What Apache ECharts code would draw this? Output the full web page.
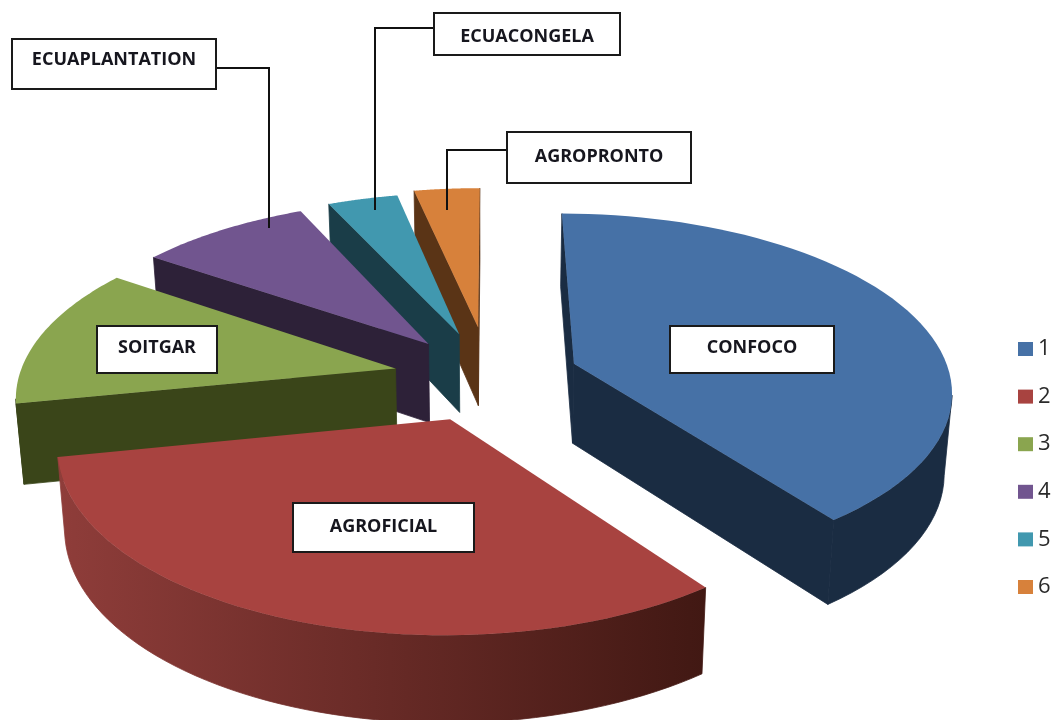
<!DOCTYPE html>
<html>
<head>
<meta charset="utf-8">
<style>
  html, body { margin: 0; padding: 0; background: #fff; }
  #chart { width: 1059px; height: 720px; }
</style>
<script src="https://cdn.jsdelivr.net/npm/echarts@6/dist/echarts.min.js"></script>
</head>
<body>
<div id="chart"></div>
<script>
// data
const legendNames = ['1', '2', '3', '4', '5', '6'];
const companies = ['CONFOCO', 'AGROFICIAL', 'SOITGAR', 'ECUAPLANTATION', 'ECUACONGELA', 'AGROPRONTO'];
const shares = [39.7, 32.2, 12.5, 8.6, 3.6, 3.4];

// slice look
const topColors = ['#4671a6', '#a84340', '#8aa54f', '#71558f', '#4198af', '#d7813b'];
const wallColors = ['#1a2c42', '#441a16', '#3a4519', '#2d2138', '#1a3d48', '#5a3416'];
// how far each slice is pulled out, in pie radii, on the pie plane
const explodeU = [0.228, -0.1, -0.25, -0.165, -0.082, -0.03];
const explodeV = [-0.102, 0.2, -0.076, -0.217, -0.275, -0.315];
const stacking = [5, 6, 4, 3, 2, 1];

// fake 3d projection of the pie plane
const cx = 489, cy = 382, radius = 378, tilt = 0.478, persp = 0.14, depth = 80;

function project(u, v, level) {
  const s = 1 + persp * v;
  return [
    cx + u * radius * s * (1 - level * 0.017),
    cy + v * tilt * radius * s + level * depth * (1 + 0.08 * v)
  ];
}

const total = shares.reduce((a, b) => a + b, 0);

function slicePoints(i) {
  const before = shares.slice(0, i).reduce((a, b) => a + b, 0);
  const a0 = before / total * Math.PI * 2;
  const a1 = (before + shares[i]) / total * Math.PI * 2;
  const ou = explodeU[i];
  const ov = explodeV[i];
  const arc = [];
  const steps = 60;
  for (let k = 0; k <= steps; k++) {
    const a = a0 + (a1 - a0) * k / steps;
    arc.push([ou + Math.sin(a), ov - Math.cos(a)]);
  }
  return { apex: [ou, ov], arc: arc };
}

function wall(uvList, fill) {
  const top = uvList.map(p => project(p[0], p[1], 0));
  const bottom = uvList.map(p => project(p[0], p[1], 1)).reverse();
  // same colour stroke hides the seam between neighbouring walls
  return {
    type: 'polygon',
    shape: { points: top.concat(bottom) },
    style: { fill: fill, stroke: fill, lineWidth: 0.8 }
  };
}

function renderSlice(i) {
  const s = slicePoints(i);
  const children = [];
  const apexTop = project(s.apex[0], s.apex[1], 0);
  const first = project(s.arc[0][0], s.arc[0][1], 0);
  const last = project(s.arc[s.arc.length - 1][0], s.arc[s.arc.length - 1][1], 0);

  // outer wall, only the part that faces us
  const front = s.arc.filter((p, k) => {
    const a = project(p[0], p[1], 0);
    const prev = s.arc[k - 1] ? project(s.arc[k - 1][0], s.arc[k - 1][1], 0) : null;
    const next = s.arc[k + 1] ? project(s.arc[k + 1][0], s.arc[k + 1][1], 0) : null;
    return (next && next[0] < a[0]) || (prev && a[0] < prev[0]);
  });
  if (front.length > 1) {
    let fill = wallColors[i];
    if (i === 1) {
      // the big red slice has a visible shading along its side
      fill = new echarts.graphic.LinearGradient(0, 0, 1, 0, [
        { offset: 0, color: '#8f3d3a' },
        { offset: 1, color: '#411813' }
      ]);
    }
    children.push(wall(front, fill));
  }
  // flat cut faces
  if (first[0] < apexTop[0]) children.push(wall([s.apex, s.arc[0]], wallColors[i]));
  if (last[0] > apexTop[0]) children.push(wall([s.apex, s.arc[s.arc.length - 1]], wallColors[i]));
  // top face
  children.push({
    type: 'polygon',
    shape: { points: [apexTop].concat(s.arc.map(p => project(p[0], p[1], 0))) },
    style: { fill: topColors[i] }
  });
  return { type: 'group', children: children };
}

// label boxes: [text, x, y, w, h, text y]
const boxes = [
  [companies[0], 670, 326, 164, 47, 348],
  [companies[1], 293, 503, 181, 49, 527],
  [companies[2], 97, 326, 120, 47, 348],
  [companies[3], 12, 39, 204, 50, 60],
  [companies[4], 434, 13, 186, 42, 37],
  [companies[5], 507, 132, 184, 51, 157]
];
const leaders = [
  [[216, 68], [269, 68], [269, 228]],
  [[434, 28], [375, 28], [375, 210]],
  [[507, 150], [447, 150], [447, 210]]
];

const graphics = [];
leaders.forEach(pts => {
  graphics.push({
    type: 'polyline', z: 100, shape: { points: pts },
    style: { stroke: '#111', lineWidth: 2, fill: null }
  });
});
boxes.forEach(b => {
  graphics.push({
    type: 'rect', z: 100,
    shape: { x: b[1], y: b[2], width: b[3], height: b[4] },
    style: { fill: '#fff', stroke: '#1a1a1a', lineWidth: 2 }
  });
  graphics.push({
    type: 'text', z: 101,
    x: b[1] + b[3] / 2, y: b[5],
    style: {
      text: b[0], fill: '#16161e', align: 'center', verticalAlign: 'middle',
      font: 'bold 18px "Open Sans", sans-serif'
    }
  });
});

const chart = echarts.init(document.getElementById('chart'));
chart.setOption({
  animation: false,
  backgroundColor: '#fff',
  legend: {
    orient: 'vertical',
    left: 1013,
    top: 333,
    itemWidth: 15,
    itemHeight: 14,
    itemGap: 25.6,
    selectedMode: false,
    icon: 'rect',
    data: legendNames,
    textStyle: { fontFamily: 'Open Sans', fontSize: 22, color: '#2a2a2a', lineHeight: 22 }
  },
  graphic: graphics,
  series: legendNames.map((name, i) => ({
    type: 'custom',
    name: name,
    z: stacking[i],
    coordinateSystem: 'none',
    itemStyle: { color: topColors[i] },
    data: [[shares[i]]],
    silent: true,
    renderItem: () => renderSlice(i)
  }))
});
</script>
</body>
</html>
